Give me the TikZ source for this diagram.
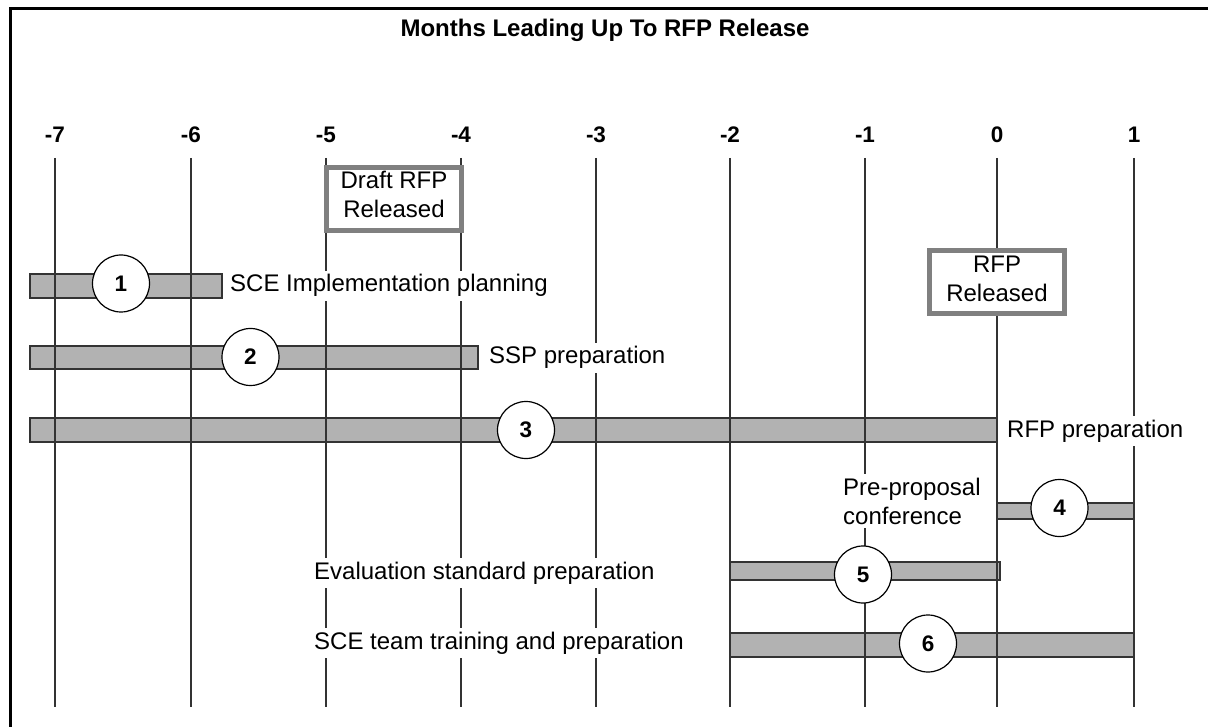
\documentclass[tikz,border=0pt]{standalone}
\usepackage{fontspec}
\setmainfont{Liberation Sans}
\definecolor{linegray}{HTML}{333333}
\definecolor{barfill}{HTML}{B2B2B2}
\definecolor{bardraw}{HTML}{333333}
\definecolor{boxgray}{HTML}{808080}
\begin{document}
\begin{tikzpicture}[x=1pt,y=-1pt,
  vline/.style={draw=linegray, line width=1.3pt},
  barbox/.style={draw=bardraw, fill=barfill, line width=1.5pt},
  numcirc/.style={circle, draw=black, fill=white, line width=1.2pt, minimum size=57pt, inner sep=0pt, font=\fontsize{22.5}{26}\selectfont\bfseries},
  lbl/.style={fill=white, inner sep=4pt, font=\fontsize{24}{29}\selectfont},
  month/.style={font=\fontsize{22.5}{26}\selectfont\bfseries, anchor=base, inner sep=0pt},
  relbox/.style={draw=boxgray, line width=5pt, fill=white, minimum width=135pt, minimum height=63pt, inner sep=0pt},
  reltext/.style={font=\fontsize{24}{29}\selectfont, align=center, inner sep=0pt}
]
\useasboundingbox (0,0) rectangle (1208,727);
% frame
\draw[line width=3.5pt] (10.3,727) -- (10.3,8.7) -- (1208,8.7);
% title
\node[font=\fontsize{24}{28}\selectfont\bfseries, anchor=base, inner sep=0pt] (title) at (605,37) {Months Leading Up To RFP Release};
% months and line end points
\foreach \i/\m/\x in {1/-7/55, 2/-6/191, 3/-5/326, 4/-4/461, 5/-3/596, 6/-2/730, 7/-1/865, 8/0/997, 9/1/1134} {
  \node[month] (m\i) at (\x,143) {\m};
  \coordinate (top\i) at (\x,158);
  \coordinate (bot\i) at (\x,707);
}
% bars
\draw[barbox] (30,274) rectangle (222,298);
\draw[barbox] (30,346) rectangle (478,369);
\draw[barbox] (30,418) rectangle (997,442);
\draw[barbox] (997,503) rectangle (1134,519);
\draw[barbox] (730,562) rectangle (1000,580);
\draw[barbox] (730,633) rectangle (1134,657);
% vertical lines
\foreach \i in {1,...,9} { \draw[vline] (top\i) -- (bot\i); }
% circles
\node[numcirc] (c1) at (121,283.5) {1};
\node[numcirc] (c2) at (250.5,357) {2};
\node[numcirc] (c3) at (526,430) {3};
\node[numcirc] (c4) at (1059.5,508) {4};
\node[numcirc] (c5) at (863,574.5) {5};
\node[numcirc] (c6) at (928,643.5) {6};
% labels
\node[lbl, anchor=base west] (l1) at (226,292) {SCE Implementation planning};
\node[lbl, anchor=base west] (l2) at (485,364) {SSP preparation};
\node[lbl, anchor=base west] (l3) at (1003,437) {RFP preparation};
\node[lbl, align=left, anchor=north west] (l4) at (839,473.5) {Pre-proposal\\conference};
\node[lbl, anchor=base west] (l5) at (310,579) {Evaluation standard preparation};
\node[lbl, anchor=base west] (l6) at (310,649) {SCE team training and preparation};
% release boxes
\node[relbox] (draft) at (394,199) {};
\node[reltext] (drafttxt) at (394,194.8) {Draft RFP\\Released};
\node[relbox] (rel) at (997,282.5) {};
\node[reltext] (reltxt) at (997,278.9) {RFP\\Released};
\end{tikzpicture}
\end{document}
